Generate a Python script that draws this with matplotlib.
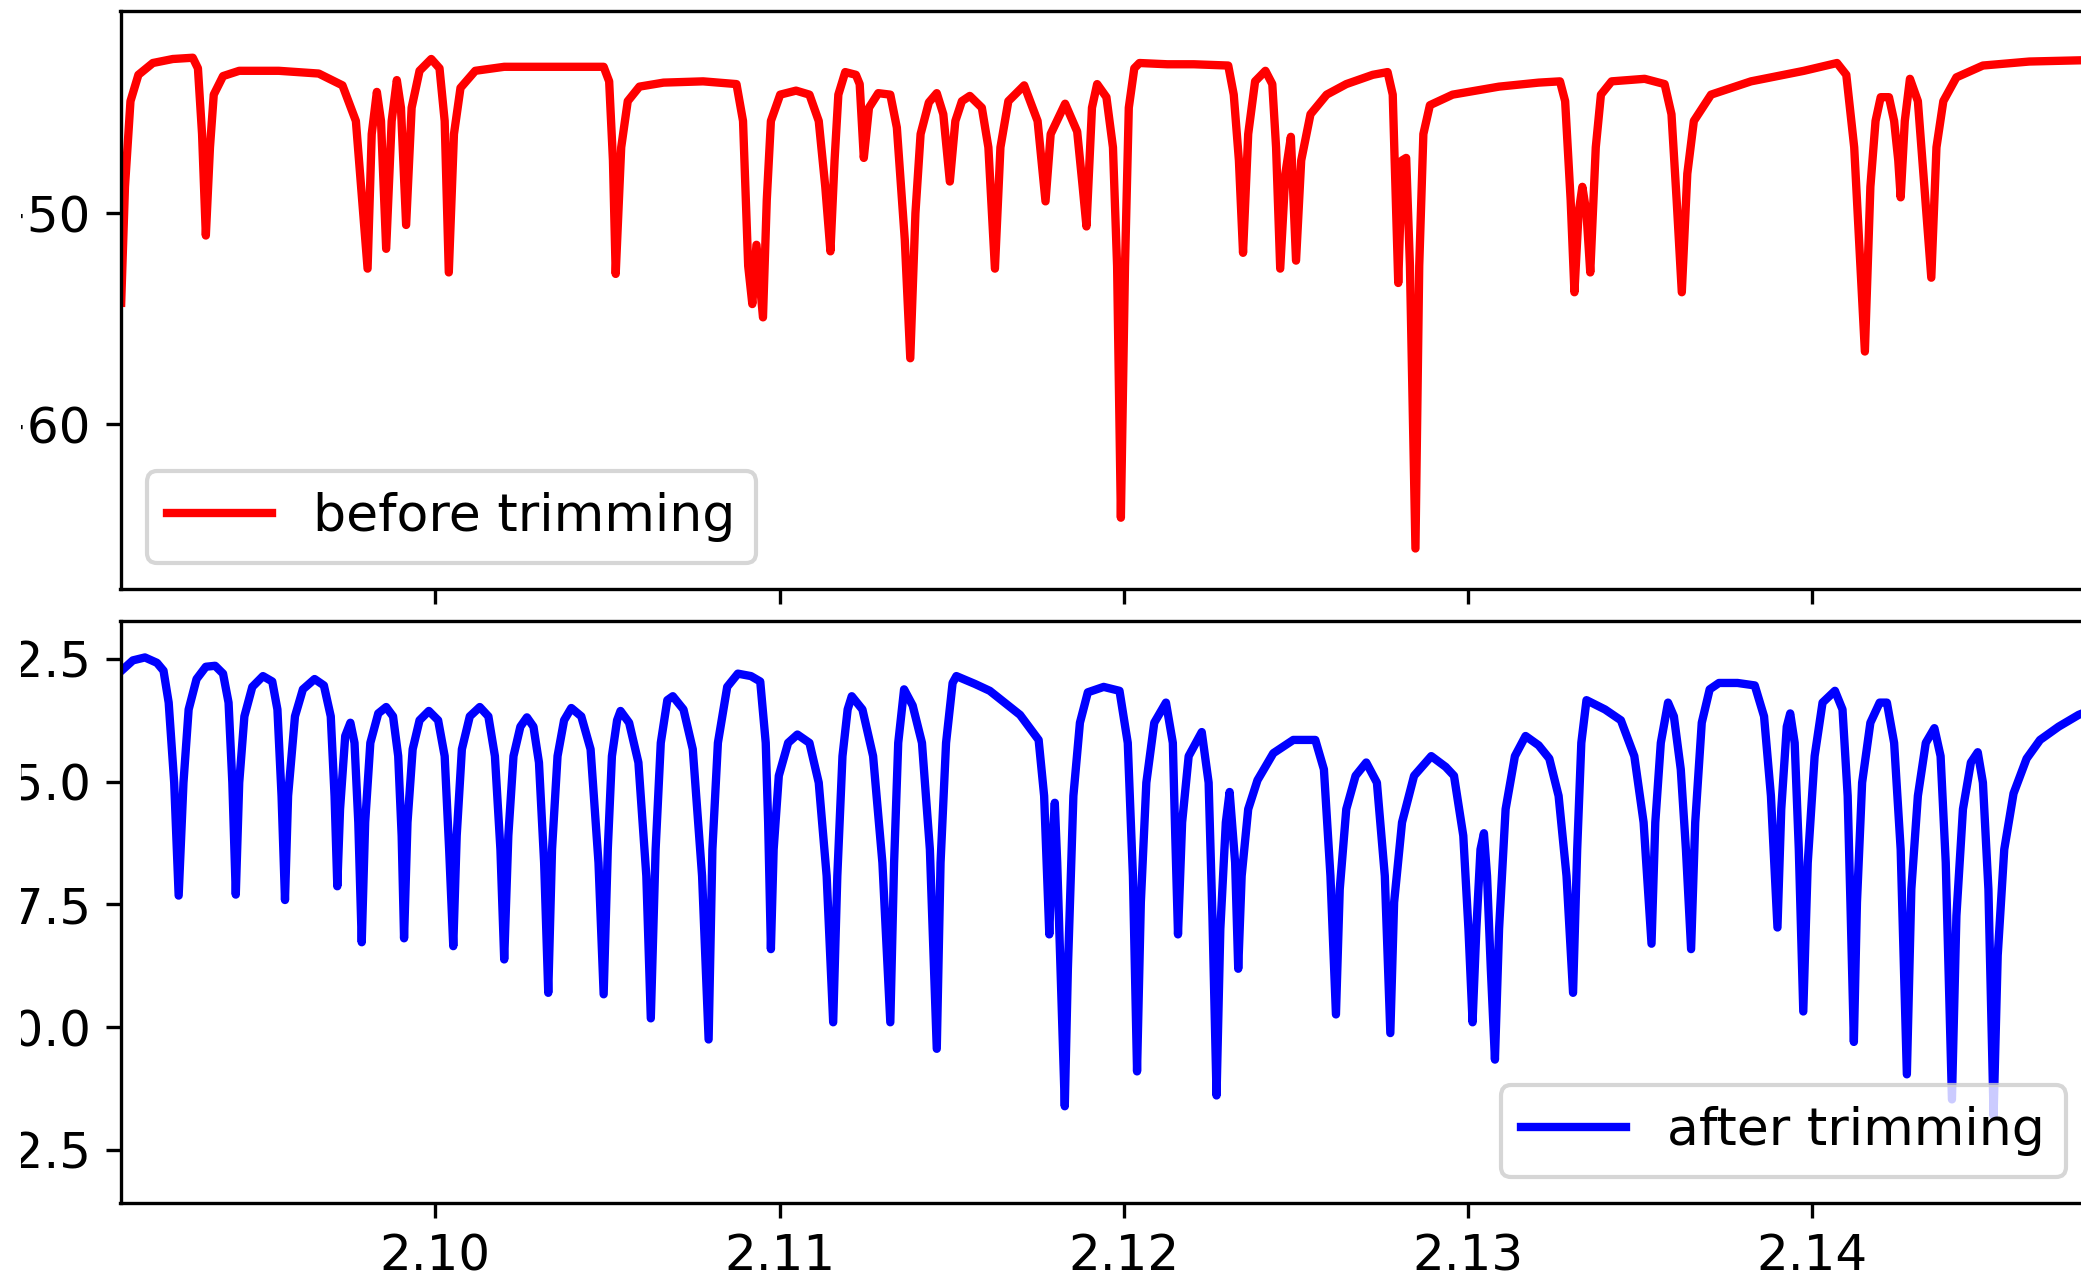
import numpy as np
import matplotlib
matplotlib.use("Agg")
import matplotlib.pyplot as plt
from matplotlib.patches import Rectangle

# spectrum before trimming
before_x = [
    2.09087, 2.09098, 2.09114, 2.09137, 2.09179, 2.09237, 2.09295, 2.09310, 2.09322, 2.09333,
    2.09345, 2.09356, 2.09383, 2.09430, 2.09545, 2.09661, 2.09730, 2.09769, 2.09803, 2.09815,
    2.09830, 2.09842, 2.09857, 2.09873, 2.09888, 2.09900, 2.09915, 2.09931, 2.09954, 2.09988,
    2.10012, 2.10027, 2.10039, 2.10054, 2.10073, 2.10116, 2.10200, 2.10355, 2.10489, 2.10505,
    2.10516, 2.10524, 2.10540, 2.10559, 2.10593, 2.10663, 2.10778, 2.10875, 2.10894, 2.10909,
    2.10921, 2.10933, 2.10952, 2.10963, 2.10975, 2.11002, 2.11048, 2.11087, 2.11114, 2.11133,
    2.11148, 2.11160, 2.11171, 2.11191, 2.11222, 2.11233, 2.11245, 2.11260, 2.11287, 2.11322,
    2.11341, 2.11364, 2.11380, 2.11395, 2.11410, 2.11434, 2.11457, 2.11476, 2.11495, 2.11511,
    2.11530, 2.11553, 2.11588, 2.11607, 2.11626, 2.11642, 2.11665, 2.11711, 2.11750, 2.11773,
    2.11788, 2.11830, 2.11865, 2.11881, 2.11892, 2.11908, 2.11923, 2.11950, 2.11969, 2.11981,
    2.11992, 2.12004, 2.12015, 2.12031, 2.12046, 2.12127, 2.12204, 2.12304, 2.12320, 2.12335,
    2.12347, 2.12362, 2.12382, 2.12412, 2.12432, 2.12443, 2.12455, 2.12470, 2.12486, 2.12501,
    2.12516, 2.12543, 2.12590, 2.12647, 2.12724, 2.12767, 2.12782, 2.12798, 2.12809, 2.12821,
    2.12832, 2.12848, 2.12859, 2.12871, 2.12890, 2.12956, 2.13091, 2.13206, 2.13268, 2.13283,
    2.13299, 2.13310, 2.13322, 2.13333, 2.13345, 2.13356, 2.13372, 2.13387, 2.13418, 2.13514,
    2.13572, 2.13592, 2.13607, 2.13622, 2.13638, 2.13657, 2.13707, 2.13823, 2.13977, 2.14073,
    2.14100, 2.14123, 2.14154, 2.14170, 2.14185, 2.14200, 2.14224, 2.14239, 2.14251, 2.14258,
    2.14270, 2.14285, 2.14308, 2.14324, 2.14347, 2.14362, 2.14382, 2.14420, 2.14497, 2.14632,
    2.14786, 2.14825,
]
before_y = [
    -54.25, -48.75, -44.69, -43.44, -42.88, -42.69, -42.63, -43.13, -46.25, -51.06,
    -46.88, -44.38, -43.50, -43.25, -43.25, -43.38, -43.94, -45.63, -52.63, -46.25,
    -44.25, -45.63, -51.69, -45.63, -43.69, -45.00, -50.56, -45.00, -43.25, -42.69,
    -43.13, -45.63, -52.81, -46.25, -44.06, -43.25, -43.06, -43.06, -43.06, -43.75,
    -47.50, -52.88, -46.88, -44.69, -44.00, -43.81, -43.75, -43.88, -45.63, -52.50,
    -54.31, -51.50, -54.94, -49.38, -45.63, -44.38, -44.19, -44.38, -45.63, -48.75,
    -51.81, -47.50, -44.38, -43.31, -43.44, -43.88, -47.38, -45.00, -44.31, -44.38,
    -45.94, -51.25, -56.88, -50.00, -46.25, -44.75, -44.31, -45.31, -48.50, -45.63,
    -44.69, -44.44, -45.00, -46.88, -52.63, -46.88, -44.69, -43.94, -45.63, -49.44,
    -46.25, -44.81, -46.13, -48.75, -50.63, -45.00, -43.88, -44.50, -46.88, -52.50,
    -64.44, -52.50, -45.00, -43.13, -42.88, -42.94, -42.94, -43.00, -44.38, -47.50,
    -51.88, -46.25, -43.75, -43.25, -43.88, -46.88, -52.63, -48.13, -46.38, -52.25,
    -47.50, -45.31, -44.38, -43.88, -43.44, -43.31, -44.38, -53.31, -47.50, -47.38,
    -52.50, -65.90, -52.50, -46.25, -44.88, -44.38, -44.00, -43.81, -43.75, -44.69,
    -49.38, -53.75, -50.00, -48.75, -50.00, -52.81, -46.88, -44.38, -43.75, -43.63,
    -43.88, -45.31, -49.38, -53.75, -48.13, -45.63, -44.38, -43.75, -43.25, -42.88,
    -43.44, -46.88, -56.56, -48.75, -45.63, -44.50, -44.50, -45.63, -47.50, -49.25,
    -45.63, -43.63, -44.69, -48.13, -53.06, -46.88, -44.69, -43.56, -43.00, -42.81,
    -42.75, -43.10,
]

# spectrum after trimming
after_x = [
    2.09091, 2.09121, 2.09156, 2.09191, 2.09210, 2.09225, 2.09241, 2.09254, 2.09268, 2.09283,
    2.09306, 2.09333, 2.09360, 2.09383, 2.09399, 2.09410, 2.09420, 2.09430, 2.09445, 2.09468,
    2.09499, 2.09526, 2.09541, 2.09553, 2.09563, 2.09572, 2.09592, 2.09615, 2.09649, 2.09676,
    2.09696, 2.09707, 2.09715, 2.09723, 2.09738, 2.09753, 2.09765, 2.09776, 2.09786, 2.09796,
    2.09811, 2.09834, 2.09857, 2.09877, 2.09892, 2.09902, 2.09909, 2.09919, 2.09934, 2.09954,
    2.09981, 2.10008, 2.10027, 2.10040, 2.10052, 2.10062, 2.10077, 2.10100, 2.10129, 2.10154,
    2.10173, 2.10189, 2.10200, 2.10212, 2.10227, 2.10247, 2.10266, 2.10285, 2.10301, 2.10316,
    2.10328, 2.10339, 2.10355, 2.10374, 2.10395, 2.10424, 2.10451, 2.10474, 2.10489, 2.10501,
    2.10513, 2.10528, 2.10538, 2.10563, 2.10590, 2.10613, 2.10626, 2.10640, 2.10655, 2.10674,
    2.10690, 2.10721, 2.10748, 2.10775, 2.10794, 2.10805, 2.10821, 2.10848, 2.10879, 2.10917,
    2.10944, 2.10960, 2.10967, 2.10975, 2.10983, 2.10998, 2.11025, 2.11052, 2.11087, 2.11114,
    2.11137, 2.11156, 2.11168, 2.11183, 2.11198, 2.11210, 2.11241, 2.11272, 2.11299, 2.11322,
    2.11333, 2.11345, 2.11362, 2.11387, 2.11414, 2.11437, 2.11457, 2.11468, 2.11484, 2.11503,
    2.11514, 2.11568, 2.11611, 2.11665, 2.11699, 2.11753, 2.11769, 2.11784, 2.11792, 2.11800,
    2.11807, 2.11819, 2.11829, 2.11838, 2.11854, 2.11873, 2.11896, 2.11942, 2.11988, 2.12012,
    2.12027, 2.12039, 2.12050, 2.12066, 2.12089, 2.12123, 2.12143, 2.12150, 2.12158, 2.12170,
    2.12189, 2.12227, 2.12247, 2.12258, 2.12270, 2.12281, 2.12297, 2.12308, 2.12324, 2.12333,
    2.12343, 2.12362, 2.12389, 2.12435, 2.12493, 2.12557, 2.12582, 2.12601, 2.12617, 2.12628,
    2.12647, 2.12674, 2.12705, 2.12736, 2.12759, 2.12775, 2.12786, 2.12809, 2.12844, 2.12894,
    2.12936, 2.12960, 2.12987, 2.13002, 2.13014, 2.13025, 2.13037, 2.13047, 2.13056, 2.13067,
    2.13079, 2.13091, 2.13110, 2.13137, 2.13168, 2.13206, 2.13237, 2.13264, 2.13287, 2.13306,
    2.13318, 2.13330, 2.13345, 2.13399, 2.13445, 2.13484, 2.13511, 2.13534, 2.13545, 2.13561,
    2.13582, 2.13599, 2.13619, 2.13634, 2.13649, 2.13661, 2.13680, 2.13703, 2.13730, 2.13784,
    2.13834, 2.13861, 2.13881, 2.13900, 2.13911, 2.13927, 2.13937, 2.13950, 2.13962, 2.13975,
    2.13988, 2.14008, 2.14031, 2.14067, 2.14089, 2.14104, 2.14112, 2.14122, 2.14131, 2.14146,
    2.14170, 2.14197, 2.14218, 2.14239, 2.14258, 2.14276, 2.14289, 2.14308, 2.14331, 2.14356,
    2.14374, 2.14389, 2.14407, 2.14420, 2.14439, 2.14462, 2.14482, 2.14497, 2.14513, 2.14528,
    2.14540, 2.14559, 2.14586, 2.14624, 2.14663, 2.14717, 2.14775, 2.14825,
]
after_y = [
    -12.72, -12.53, -12.47, -12.58, -12.74, -13.39, -15.02, -17.32, -15.02, -13.53,
    -12.91, -12.66, -12.64, -12.80, -13.39, -15.02, -17.30, -15.02, -13.67, -13.07,
    -12.85, -12.96, -13.53, -15.29, -17.41, -15.29, -13.67, -13.12, -12.91, -13.04,
    -13.67, -15.29, -17.13, -15.56, -14.07, -13.80, -14.21, -15.83, -18.27, -15.83,
    -14.21, -13.61, -13.48, -13.67, -14.48, -16.10, -18.19, -15.83, -14.34, -13.75,
    -13.56, -13.75, -14.48, -16.38, -18.35, -16.10, -14.34, -13.67, -13.48, -13.67,
    -14.48, -16.38, -18.62, -16.10, -14.48, -13.88, -13.69, -13.88, -14.61, -16.65,
    -19.30, -16.38, -14.48, -13.75, -13.50, -13.67, -14.34, -16.65, -19.33, -16.38,
    -14.48, -13.75, -13.56, -13.80, -14.61, -16.92, -19.82, -16.38, -14.21, -13.34,
    -13.26, -13.53, -14.34, -16.92, -20.25, -16.38, -14.21, -13.07, -12.80, -12.85,
    -12.96, -14.21, -15.83, -18.41, -16.38, -14.88, -14.21, -14.04, -14.21, -15.02,
    -16.92, -19.90, -16.92, -14.48, -13.53, -13.26, -13.53, -14.48, -16.65, -19.90,
    -16.65, -14.21, -13.12, -13.45, -14.21, -16.38, -20.44, -16.65, -14.21, -12.99,
    -12.85, -13.01, -13.15, -13.45, -13.64, -14.15, -15.29, -18.11, -16.38, -15.43,
    -16.65, -19.36, -21.61, -18.81, -15.29, -13.80, -13.18, -13.07, -13.15, -14.21,
    -16.92, -20.90, -17.46, -15.02, -13.80, -13.39, -14.21, -16.10, -18.11, -15.83,
    -14.48, -13.99, -15.02, -17.73, -21.39, -18.00, -15.83, -15.21, -16.65, -18.81,
    -16.92, -15.56, -14.97, -14.42, -14.15, -14.15, -14.75, -16.92, -19.74, -17.19,
    -15.56, -14.88, -14.61, -15.02, -16.92, -20.12, -17.46, -15.83, -14.88, -14.48,
    -14.70, -14.88, -16.10, -18.00, -19.90, -18.00, -16.38, -16.05, -16.92, -18.81,
    -20.66, -18.00, -15.56, -14.48, -14.07, -14.26, -14.53, -15.29, -16.92, -19.30,
    -16.38, -14.21, -13.34, -13.53, -13.75, -14.48, -15.83, -18.30, -15.83, -14.21,
    -13.39, -13.67, -14.75, -16.38, -18.41, -15.83, -13.80, -13.12, -12.99, -12.99,
    -13.04, -13.67, -15.29, -17.97, -15.56, -13.88, -13.61, -14.21, -16.38, -19.68,
    -16.65, -14.48, -13.39, -13.15, -13.53, -15.29, -17.46, -20.30, -17.46, -15.02,
    -13.80, -13.39, -13.39, -14.21, -16.38, -20.96, -17.19, -15.29, -14.21, -13.91,
    -14.48, -16.65, -21.47, -17.73, -15.56, -14.61, -14.40, -15.02, -17.19, -21.80,
    -18.54, -16.38, -15.24, -14.53, -14.15, -13.88, -13.64, -13.50,
]

x_ticks = [2.10, 2.11, 2.12, 2.13, 2.14]
x_labels = ["2.10", "2.11", "2.12", "2.13", "2.14"]
top_yticks = [-60, -50]
bottom_yticks = [-22.5, -20.0, -17.5, -15.0, -12.5]

plt.rcParams["font.family"] = "DejaVu Sans"

W, H = 2081, 1272
fig = plt.figure(figsize=(W / 300, H / 300), dpi=300)

ax1 = fig.add_axes([120.5 / W, 1 - 589 / H, (2092 - 120.5) / W, (589 - 10.7) / H])
ax2 = fig.add_axes([120.5 / W, 1 - 1203 / H, (2092 - 120.5) / W, (1203 - 620.6) / H],
                   sharex=ax1)

ax1.plot(before_x, before_y, color="red", lw=2.0, solid_joinstyle="round",
         label="before trimming")
ax2.plot(after_x, after_y, color="blue", lw=2.0, solid_joinstyle="round",
         label="after trimming")

ax1.set_xlim(2.09085, 2.14814)
ax1.set_ylim(-67.82, -40.40)
ax2.set_ylim(-23.58, -11.72)

ax1.set_yticks(top_yticks)
ax2.set_yticks(bottom_yticks)
ax2.set_xticks(x_ticks)
ax2.set_xticklabels(x_labels)
ax1.tick_params(labelbottom=False)
for ax in (ax1, ax2):
    ax.tick_params(labelsize=12)

ax1.legend(loc="lower left", fontsize=12.5)
ax2.legend(loc="lower right", fontsize=12.5)

# the original image is cut on the left edge
fig.add_artist(Rectangle((0, 0), 21 / W, 1, transform=fig.transFigure,
                         facecolor="white", edgecolor="none", zorder=10))

fig.savefig("out.png", dpi=300)
